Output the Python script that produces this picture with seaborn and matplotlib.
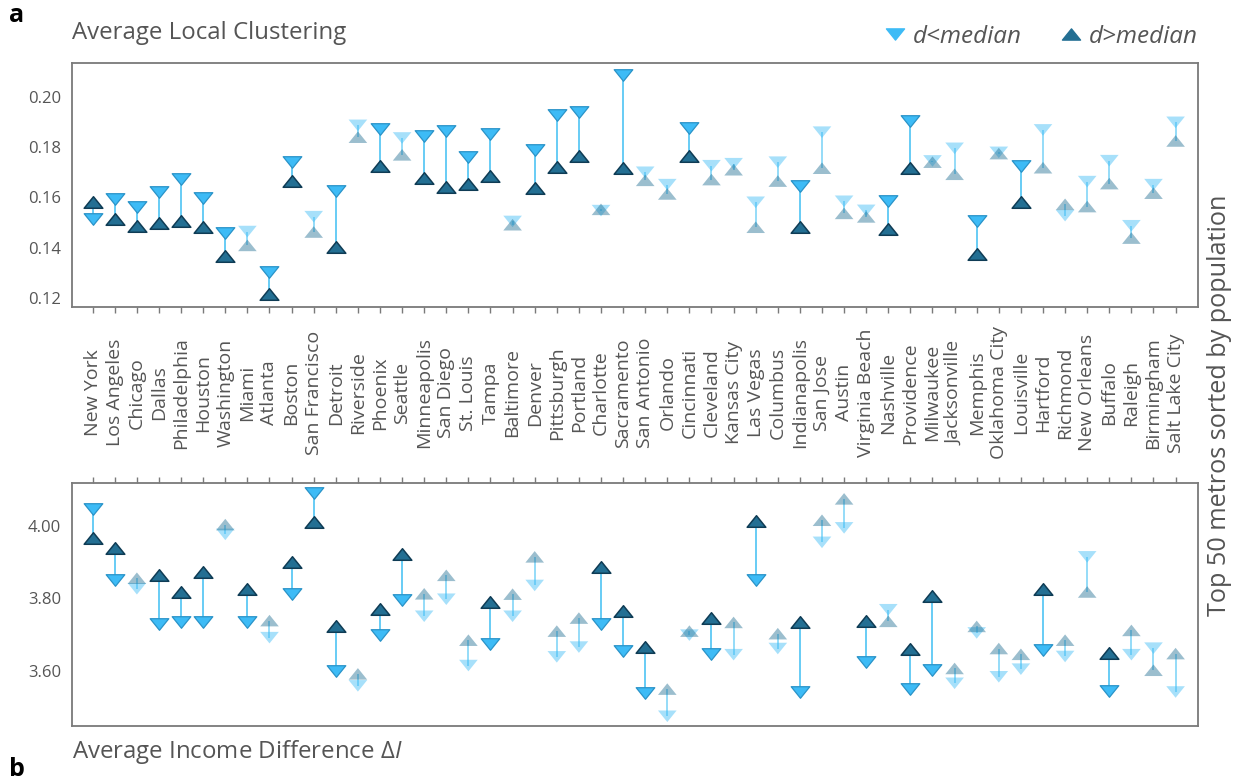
import numpy as np
import pandas as pd
import matplotlib
matplotlib.use("Agg")
import matplotlib.pyplot as plt
from matplotlib.path import Path
from matplotlib.markers import MarkerStyle
from matplotlib.lines import Line2D
import seaborn as sns

cities = ["New York", "Los Angeles", "Chicago", "Dallas", "Philadelphia", "Houston",
          "Washington", "Miami", "Atlanta", "Boston", "San Francisco", "Detroit",
          "Riverside", "Phoenix", "Seattle", "Minneapolis", "San Diego", "St. Louis",
          "Tampa", "Baltimore", "Denver", "Pittsburgh", "Portland", "Charlotte",
          "Sacramento", "San Antonio", "Orlando", "Cincinnati", "Cleveland",
          "Kansas City", "Las Vegas", "Columbus", "Indianapolis", "San Jose", "Austin",
          "Virginia Beach", "Nashville", "Providence", "Milwaukee", "Jacksonville",
          "Memphis", "Oklahoma City", "Louisville", "Hartford", "Richmond",
          "New Orleans", "Buffalo", "Raleigh", "Birmingham", "Salt Lake City"]

# Panel a: average local clustering
clust_below = [0.1513, 0.1593, 0.1564, 0.1623, 0.1673, 0.1597, 0.1458, 0.1465, 0.1306, 0.1740,
               0.1524, 0.1624, 0.1886, 0.1870, 0.1836, 0.1845, 0.1865, 0.1759, 0.1852, 0.1505,
               0.1788, 0.1927, 0.1938, 0.1548, 0.2086, 0.1700, 0.1651, 0.1874, 0.1726, 0.1734,
               0.1581, 0.1740, 0.1646, 0.1859, 0.1585, 0.1549, 0.1587, 0.1902, 0.1745, 0.1795,
               0.1508, 0.1779, 0.1724, 0.1868, 0.1528, 0.1663, 0.1746, 0.1488, 0.1651, 0.1898]
clust_above = [0.1581, 0.1513, 0.1487, 0.1500, 0.1508, 0.1483, 0.1368, 0.1410, 0.1216, 0.1665,
               0.1463, 0.1405, 0.1839, 0.1725, 0.1769, 0.1679, 0.1642, 0.1652, 0.1685, 0.1492,
               0.1639, 0.1721, 0.1766, 0.1553, 0.1718, 0.1668, 0.1614, 0.1763, 0.1671, 0.1710,
               0.1482, 0.1665, 0.1484, 0.1716, 0.1537, 0.1523, 0.1476, 0.1718, 0.1740, 0.1692,
               0.1375, 0.1774, 0.1583, 0.1718, 0.1573, 0.1564, 0.1655, 0.1439, 0.1617, 0.1824]
clust_sig = [1, 1, 1, 1, 1, 1, 1, 0, 1, 1, 0, 1, 0, 1, 0, 1, 1, 1, 1, 0,
             1, 1, 1, 0, 1, 0, 0, 1, 0, 0, 0, 0, 1, 0, 0, 0, 1, 1, 0, 0,
             1, 0, 1, 0, 0, 0, 0, 0, 0, 0]

# Panel b: average income difference
income_below = [4.045, 3.849, 3.826, 3.728, 3.735, 3.734, 3.976, 3.734, 3.691, 3.812,
                4.089, 3.599, 3.558, 3.697, 3.796, 3.750, 3.797, 3.614, 3.673, 3.750,
                3.835, 3.638, 3.665, 3.730, 3.654, 3.537, 3.474, 3.698, 3.647, 3.644,
                3.849, 3.661, 3.541, 3.954, 3.994, 3.624, 3.768, 3.548, 3.601, 3.565,
                3.704, 3.583, 3.604, 3.658, 3.639, 3.914, 3.543, 3.644, 3.662, 3.541]
income_above = [3.967, 3.939, 3.855, 3.864, 3.816, 3.873, 4.003, 3.825, 3.738, 3.900,
                4.010, 3.723, 3.591, 3.771, 3.921, 3.812, 3.863, 3.684, 3.788, 3.811,
                3.914, 3.709, 3.745, 3.886, 3.765, 3.665, 3.549, 3.709, 3.745, 3.733,
                4.012, 3.702, 3.735, 4.015, 4.074, 3.736, 3.736, 3.659, 3.805, 3.606,
                3.722, 3.661, 3.645, 3.826, 3.684, 3.817, 3.650, 3.711, 3.601, 3.647]
income_sig = [1, 1, 0, 1, 1, 1, 0, 1, 0, 1, 1, 1, 0, 1, 1, 0, 0, 0, 1, 0,
              0, 0, 0, 1, 1, 1, 0, 0, 1, 0, 1, 0, 1, 0, 0, 1, 0, 1, 1, 0,
              0, 0, 0, 1, 0, 0, 1, 0, 0, 0]

clust_ticks = [0.12, 0.14, 0.16, 0.18, 0.20]
income_ticks = [3.60, 3.80, 4.00]
legend_labels = ["d<median", "d>median"]

# ---------------- style ----------------
sns.set_theme(style="white")
plt.rcParams["font.family"] = ["Open Sans", "DejaVu Sans"]
plt.rcParams["mathtext.fontset"] = "custom"
plt.rcParams["mathtext.it"] = "Open Sans:italic"
plt.rcParams["mathtext.rm"] = "Open Sans"
TXT = "#555555"
FRAME = "#7a7a7a"
C_DOWN = "#3dbbf6"
C_DOWN_E = "#2a93c8"
C_UP = "#236f93"
C_UP_E = "#0f3c55"
C_LINE = "#5cc8f5"
FADE = 0.45

h = 0.62
down_marker = MarkerStyle(Path([(-1, h), (1, h), (0, -h), (-1, h)],
                               [Path.MOVETO, Path.LINETO, Path.LINETO, Path.CLOSEPOLY]))
up_marker = MarkerStyle(Path([(-1, -h), (1, -h), (0, h), (-1, -h)],
                             [Path.MOVETO, Path.LINETO, Path.LINETO, Path.CLOSEPOLY]))
MS = 180

fig = plt.figure(figsize=(12.44, 7.82), dpi=100)
W, H = 1244.0, 782.0
ax_a = fig.add_axes([71.7 / W, 1 - 306.7 / H, 1126 / W, 243.4 / H])
ax_b = fig.add_axes([71.7 / W, 1 - 725.7 / H, 1126 / W, 243.0 / H])


def draw_panel(ax, below, above, sig):
    df = pd.DataFrame({"x": np.arange(len(cities)), "below": below,
                       "above": above, "sig": np.array(sig, dtype=bool)})
    s = df[df.sig]
    n = df[~df.sig]
    ax.vlines(s.x, s.below, s.above, color=C_LINE, lw=1.3, zorder=1)
    ax.vlines(n.x, n.below, n.above, color=C_LINE, lw=1.3, alpha=0.7, zorder=1)
    sns.scatterplot(data=n, x="x", y="below", marker=down_marker, s=MS, color=C_DOWN,
                    edgecolor="none", alpha=FADE, ax=ax, zorder=2, legend=False)
    sns.scatterplot(data=n, x="x", y="above", marker=up_marker, s=MS, color=C_UP,
                    edgecolor="none", alpha=FADE, ax=ax, zorder=2, legend=False)
    sns.scatterplot(data=s, x="x", y="below", marker=down_marker, s=MS, color=C_DOWN,
                    edgecolor=C_DOWN_E, linewidth=0.9, ax=ax, zorder=3, legend=False)
    sns.scatterplot(data=s, x="x", y="above", marker=up_marker, s=MS, color=C_UP,
                    edgecolor=C_UP_E, linewidth=1.1, ax=ax, zorder=3, legend=False)
    ax.set_xlim(-0.95, 50.0)
    ax.set_xlabel("")
    ax.set_ylabel("")
    for sp in ax.spines.values():
        sp.set_color(FRAME)
        sp.set_linewidth(1.3)
    ax.set_xticks(np.arange(len(cities)))
    ax.tick_params(axis="both", colors=FRAME, labelcolor=TXT, labelsize=12,
                   length=4, width=1.0, direction="out")


draw_panel(ax_a, clust_below, clust_above, clust_sig)
draw_panel(ax_b, income_below, income_above, income_sig)

ax_a.set_ylim(0.1167, 0.2132)
ax_a.set_yticks(clust_ticks)
ax_a.set_yticklabels([f"{v:.2f}" for v in clust_ticks])
ax_a.tick_params(axis="x", bottom=True, top=False)
ax_a.set_xticklabels(cities, rotation=90, va="center", ha="center",
                     fontsize=14, color=TXT)
ax_a.tick_params(axis="x", pad=58)

ax_b.set_ylim(3.448, 4.1186)
ax_b.set_yticks(income_ticks)
ax_b.set_yticklabels([f"{v:.2f}" for v in income_ticks])
ax_b.tick_params(axis="x", bottom=False, top=True, labelbottom=False, labeltop=False)

fig.text(72 / W, 1 - 33 / H, "Average Local Clustering", fontsize=17.3, color=TXT,
         ha="left", va="center")
fig.text(72 / W, 1 - 752 / H, "Average Income Difference $\\mathit{\\Delta I}$",
         fontsize=17.3, color=TXT, ha="left", va="center")
fig.text(9 / W, 1 - 15 / H, "a", fontsize=18, fontweight="bold", color="black",
         ha="left", va="center")
fig.text(9 / W, 1 - 770 / H, "b", fontsize=18, fontweight="bold", color="black",
         ha="left", va="center")
fig.text(1220 / W, 1 - 405 / H, "Top 50 metros sorted by population", rotation=90,
         fontsize=18.2, color=TXT, ha="center", va="center")

handles = [Line2D([], [], ls="none", marker=down_marker, markersize=13, color=C_DOWN),
           Line2D([], [], ls="none", marker=up_marker, markersize=13, color=C_UP)]
fig.legend(handles, legend_labels, loc="center right",
           bbox_to_anchor=(1220 / W, 1 - 37 / H), ncol=2, frameon=False,
           handletextpad=0.25, columnspacing=1.5, handlelength=1.0,
           prop={"style": "italic", "size": 17.5}, labelcolor=TXT)

fig.savefig("out.png", dpi=100, facecolor="white")
